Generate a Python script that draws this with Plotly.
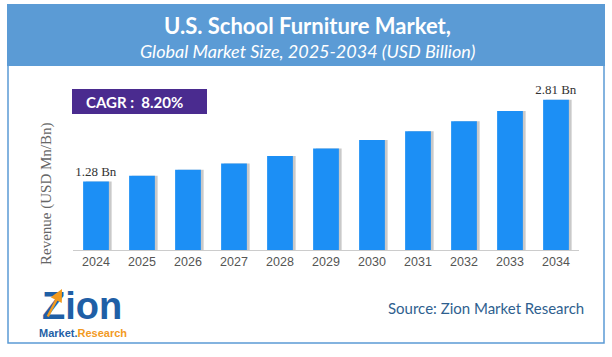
import plotly.graph_objects as go

years = ["2024", "2025", "2026", "2027", "2028", "2029", "2030", "2031", "2032", "2033", "2034"]
revenue = [1.28, 1.39, 1.50, 1.62, 1.76, 1.90, 2.06, 2.22, 2.41, 2.60, 2.81]
bar_labels = ["1.28 Bn", "", "", "", "", "", "", "", "", "", "2.81 Bn"]

title = "U.S. School Furniture Market,"
subtitle = "Global Market Size, 2025-2034 (USD Billion)"
cagr_text = "CAGR :  8.20%"
y_title = "Revenue (USD Mn/Bn)"
source = "Source: Zion Market Research"

W, H = 612, 357
def fx(px):
    return px / W
def fy(py):
    return 1 - py / H

fig = go.Figure()
# shadow
fig.add_trace(go.Bar(x=years, y=revenue, width=0.56, offset=-0.22,
                     marker=dict(color="rgba(120,120,120,0.4)", line_width=0),
                     hoverinfo="skip", showlegend=False))
fig.add_trace(go.Bar(x=years, y=revenue, width=0.56, offset=-0.28,
                     marker=dict(color="#1C8FF5", line_width=0),
                     text=bar_labels, textposition="outside", cliponaxis=False,
                     constraintext="none",
                     textfont=dict(family="Liberation Serif", size=13, color="#333333"),
                     showlegend=False))

def ann(text, x, y, size, color, family="Lato", **kw):
    d = dict(text=text, x=fx(x), y=fy(y), xref="paper", yref="paper", showarrow=False,
             xanchor="center", yanchor="middle",
             font=dict(family=family, size=size, color=color))
    d.update(kw)
    return d

fig.update_layout(
    width=W, height=H, margin=dict(l=0, r=0, t=0, b=0),
    paper_bgcolor="white", plot_bgcolor="white",
    barmode="overlay",
    xaxis=dict(domain=[fx(73), fx(579)], range=[-0.5, 10.5], showline=True,
               linecolor="#cccccc", linewidth=1, ticks="", showgrid=False,
               tickfont=dict(family="Liberation Sans", size=12.5, color="#555555")),
    yaxis=dict(domain=[fy(250), fy(79)], range=[0, 3.2], visible=False, showgrid=False),
    shapes=[
        dict(type="rect", xref="paper", yref="paper", x0=fx(8), x1=fx(604), y0=fy(343), y1=fy(5),
             line=dict(color="#5B9BD5", width=1.5), fillcolor="rgba(0,0,0,0)", layer="below"),
        dict(type="rect", xref="paper", yref="paper", x0=fx(7), x1=fx(605), y0=fy(66), y1=fy(4),
             line=dict(width=0), fillcolor="#5B9BD5"),
        dict(type="rect", xref="paper", yref="paper", x0=fx(72), x1=fx(207), y0=fy(114), y1=fy(89),
             line=dict(width=0), fillcolor="#4A2B8F"),
    ],
    annotations=[
        ann("<b>" + title + "</b>", 307, 26, 22, "white"),
        ann("<i>" + subtitle + "</i>", 307, 51, 18, "white"),
        ann("<b>" + cagr_text + "</b>", 134, 101.5, 15, "white"),
        ann(y_title, 47, 194, 15, "#666666", family="Liberation Serif", textangle=-90),
        ann(source, 486, 308, 15, "#2F5F8F"),
        ann("<b>Zi<span style='color:#1F5FA6'>o</span>n</b>", 82, 306, 38, "#1F5FA6",
            family="Liberation Sans"),
        dict(x=fx(62), y=fy(289), ax=-15, ay=29, xref="paper", yref="paper",
             axref="pixel", ayref="pixel", showarrow=True, arrowhead=2, arrowsize=1,
             arrowwidth=2.5, arrowcolor="#F29A1F", text=""),
        ann("<b><span style='color:#1F5FA6'>Market.</span><span style='color:#F29A1F'>Research</span></b>",
            83, 333, 11, "#1F5FA6", family="Liberation Sans"),
    ],
)
fig.write_html("out.html", config={"displayModeBar": False},
               post_script="document.body.style.margin='0';document.body.style.padding='0';")
